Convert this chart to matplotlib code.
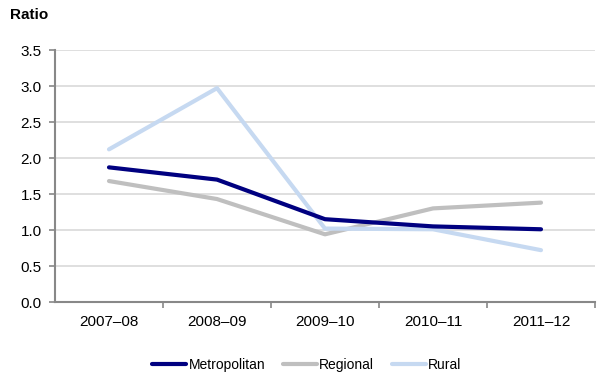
import matplotlib
matplotlib.use("Agg")
import matplotlib.pyplot as plt

categories = ["2007–08", "2008–09", "2009–10", "2010–11", "2011–12"]
metropolitan = [1.87, 1.70, 1.15, 1.05, 1.01]
regional = [1.68, 1.43, 0.94, 1.30, 1.38]
rural = [2.12, 2.97, 1.02, 1.01, 0.72]
y_ticks = [0.0, 0.5, 1.0, 1.5, 2.0, 2.5, 3.0, 3.5]

plt.rcParams['font.family'] = ['Liberation Sans', 'DejaVu Sans']

fig = plt.figure(figsize=(6.1, 3.87), dpi=100)
ax = fig.add_axes([55/610, 1 - 302/387, 540/610, 252/387])

x = list(range(len(categories)))
ax.plot(x, metropolitan, color="#000080", lw=3, label="Metropolitan", solid_capstyle="round", zorder=3)
ax.plot(x, regional, color="#BFBFBF", lw=3, label="Regional", solid_capstyle="round", zorder=2)
ax.plot(x, rural, color="#C6D9F1", lw=3, label="Rural", solid_capstyle="round", zorder=2)

ax.set_xlim(-0.5, len(categories) - 0.5)
ax.set_ylim(0, 3.5)
ax.set_yticks(y_ticks)
ax.set_yticklabels([f"{v:.1f}" for v in y_ticks], fontsize=11)
ax.set_xticks(x)
ax.set_xticklabels(categories, fontsize=11)
ax.set_xticks([i + 0.5 for i in range(len(categories))], minor=True)
ax.tick_params(axis='x', which='major', length=0, pad=9)
ax.tick_params(axis='x', which='minor', length=4.5, width=1.2, color="#888888", direction='out')
ax.tick_params(axis='y', length=4.5, width=1.2, color="#888888", direction='out', pad=5)

ax.grid(axis='y', color="#D9D9D9", lw=1.2, zorder=0)
ax.set_axisbelow(True)
for s in ['top', 'right']:
    ax.spines[s].set_visible(False)
for s in ['left', 'bottom']:
    ax.spines[s].set_color("#888888")
    ax.spines[s].set_linewidth(1.5)

fig.text(10/610, 1 - 15/387, "Ratio", fontsize=11, fontweight='bold', va='center', ha='left')

fig.legend(loc='center', bbox_to_anchor=(307/610, 1 - 365/387), ncol=3, frameon=False,
           fontsize=10, handlelength=2.45, handletextpad=0.15, columnspacing=1.3)

fig.savefig("out.png", dpi=100)
